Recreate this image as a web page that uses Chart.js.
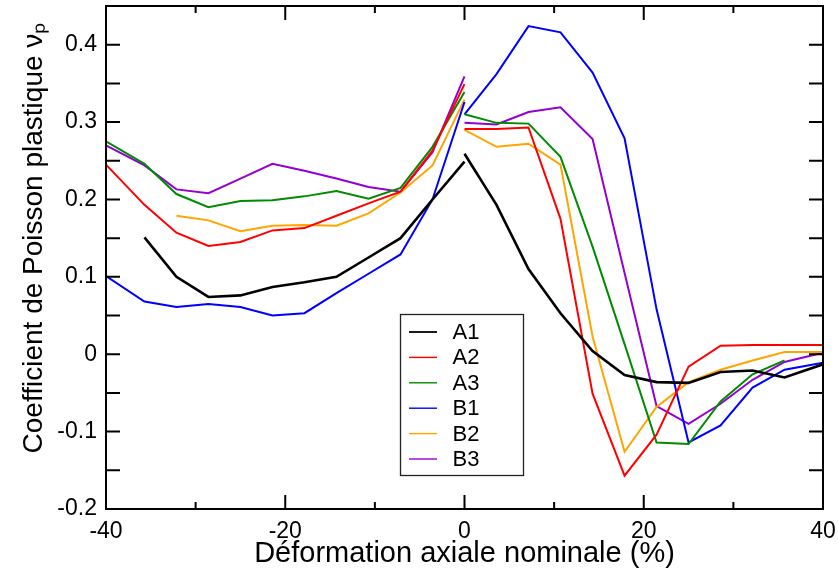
<!DOCTYPE html>
<html>
<head>
<meta charset="utf-8">
<script src="https://cdn.jsdelivr.net/npm/chart.js@4.4.1/dist/chart.umd.min.js"></script>
<style>
  html, body { margin: 0; padding: 0; background: #fff; }
</style>
</head>
<body>
<canvas id="chart" width="838" height="571"></canvas>
<script>
/* ── Data ─────────────────────────────────────────────────────────────── */

// strain steps (%), compression branch then tension branch
const STRAIN_NEG = [-40, -35.71, -32.14, -28.57, -25, -21.43, -17.86, -14.29, -10.71, -7.14, -3.57, 0];
const STRAIN_POS = [0, 3.57, 7.14, 10.71, 14.29, 17.86, 21.43, 25, 28.57, 32.14, 35.71, 40];

const LABELS = ['A1', 'A2', 'A3', 'B1', 'B2', 'B3'];
const COLORS = ['#000000', '#ff0000', '#008b00', '#0000ff', '#ffa500', '#9400d3'];

const A1_NEG = [null, 0.151, 0.100, 0.074, 0.076, 0.087, 0.093, 0.100, 0.125, 0.150, 0.200, 0.249];
const A2_NEG = [0.245, 0.193, 0.157, 0.140, 0.145, 0.160, 0.163, 0.179, 0.195, 0.210, 0.263, 0.349];
const A3_NEG = [0.275, 0.246, 0.207, 0.190, 0.198, 0.199, 0.204, 0.211, 0.201, 0.215, 0.268, 0.339];
const B1_NEG = [0.101, 0.068, 0.061, 0.065, 0.061, 0.050, 0.053, 0.079, 0.104, 0.129, 0.200, 0.326];
const B2_NEG = [null, null, 0.179, 0.173, 0.159, 0.166, 0.167, 0.166, 0.182, 0.209, 0.244, 0.329];
const B3_NEG = [0.270, 0.244, 0.213, 0.208, 0.227, 0.246, 0.237, 0.227, 0.216, 0.210, 0.261, 0.359];

const A1_POS = [0.259, 0.193, 0.110, 0.053, 0.004, -0.027, -0.036, -0.037, -0.023, -0.021, -0.030, -0.013];
const A2_POS = [0.291, 0.291, 0.293, 0.175, -0.051, -0.157, -0.104, -0.016, 0.011, 0.012, 0.012, 0.012];
const A3_POS = [0.310, 0.299, 0.298, 0.255, 0.139, 0.013, -0.114, -0.116, -0.061, -0.026, -0.008, null];
const B1_POS = [0.310, 0.362, 0.424, 0.416, 0.364, 0.279, 0.058, -0.114, -0.092, -0.043, -0.020, -0.011];
const B2_POS = [0.290, 0.268, 0.272, 0.245, 0.023, -0.126, -0.068, -0.036, -0.020, -0.008, 0.003, 0.003];
const B3_POS = [0.299, 0.297, 0.313, 0.319, 0.278, 0.105, -0.067, -0.090, -0.064, -0.033, -0.010, 0.002];

const NEG = [A1_NEG, A2_NEG, A3_NEG, B1_NEG, B2_NEG, B3_NEG];
const POS = [A1_POS, A2_POS, A3_POS, B1_POS, B2_POS, B3_POS];

// the two branches are not joined at 0 → null point in between
function branches(neg, pos) {
  const pts = STRAIN_NEG.map((x, i) => ({ x, y: neg[i] }));
  pts.push({ x: 0, y: null });
  STRAIN_POS.forEach((x, i) => pts.push({ x, y: pos[i] }));
  return pts;
}

/* ── Plugins: boxed frame with inward ticks, legend inside the plot ───── */

const frame = {
  id: 'frame',
  afterDatasetsDraw(chart) {
    const { ctx, chartArea: a, scales: { x, y } } = chart;
    ctx.save();
    ctx.strokeStyle = '#000';
    ctx.lineWidth = 2;
    ctx.beginPath();
    x.ticks.forEach(t => {
      const px = x.getPixelForValue(t.value);
      if (px <= a.left + 1 || px >= a.right - 1) return;
      const len = t.value % 20 === 0 ? 14 : 7;
      ctx.moveTo(px, a.bottom); ctx.lineTo(px, a.bottom - len);
      ctx.moveTo(px, a.top);    ctx.lineTo(px, a.top + len);
    });
    y.ticks.forEach(t => {
      const py = y.getPixelForValue(t.value);
      if (py <= a.top + 1 || py >= a.bottom - 1) return;
      ctx.moveTo(a.left, py);  ctx.lineTo(a.left + 14, py);
      ctx.moveTo(a.right, py); ctx.lineTo(a.right - 14, py);
    });
    ctx.stroke();
    ctx.strokeRect(a.left, a.top, a.right - a.left, a.bottom - a.top);
    ctx.restore();
  }
};

const boxLegend = {
  id: 'boxLegend',
  afterDraw(chart) {
    const { ctx, chartArea: a } = chart;
    const left = a.left + 294.5, top = a.top + 308.5, w = 123, h = 161;
    ctx.save();
    ctx.fillStyle = '#fff';
    ctx.fillRect(left, top, w, h);
    ctx.strokeStyle = '#222';
    ctx.lineWidth = 1.3;
    ctx.strokeRect(left, top, w, h);
    ctx.font = '22px "Liberation Sans", Arial, sans-serif';
    ctx.textBaseline = 'middle';
    chart.data.datasets.forEach((ds, i) => {
      const cy = top + 17.5 + i * 25.4;
      ctx.strokeStyle = ds.borderColor;
      ctx.lineWidth = i === 0 ? 1.8 : 1.4;
      ctx.beginPath();
      ctx.moveTo(left + 8.5, cy);
      ctx.lineTo(left + 36.5, cy);
      ctx.stroke();
      ctx.fillStyle = '#000';
      ctx.fillText(ds.label, left + 52, cy + 1);
    });
    ctx.restore();
  }
};

/* ── Chart ────────────────────────────────────────────────────────────── */

Chart.defaults.font.family = '"Liberation Sans", Arial, Helvetica, sans-serif';
Chart.defaults.color = '#000';

new Chart(document.getElementById('chart'), {
  type: 'line',
  data: {
    datasets: LABELS.map((label, i) => ({
      label,
      data: branches(NEG[i], POS[i]),
      borderColor: COLORS[i],
      borderWidth: i === 0 ? 2.6 : 2,
      pointRadius: 0,
      tension: 0,
      fill: false,
      spanGaps: false,
    })),
  },
  options: {
    responsive: false,
    animation: false,
    layout: { padding: { top: 6, right: 15, left: 0, bottom: 0 } },
    plugins: { legend: { display: false }, tooltip: { enabled: false } },
    scales: {
      x: {
        type: 'linear',
        min: -40, max: 40,
        afterFit: s => { s.height = 62; s.paddingLeft = 0; s.paddingRight = 0; },
        grid: { display: false, drawTicks: false },
        border: { display: false },
        ticks: {
          stepSize: 10,
          padding: 9,
          maxRotation: 0,
          autoSkip: false,
          font: { size: 23 },
          callback: v => (v % 20 === 0 ? String(v) : ''),
        },
        title: {
          display: true,
          text: 'Déformation axiale nominale (%)',
          font: { size: 29 },
          padding: { top: 0, bottom: 0 },
        },
      },
      y: {
        min: -0.2, max: 0.45,
        afterFit: s => { s.width = 106; s.paddingTop = 0; s.paddingBottom = 0; },
        grid: { display: false, drawTicks: false },
        border: { display: false },
        ticks: {
          stepSize: 0.05,
          padding: 9,
          autoSkip: false,
          font: { size: 23 },
          callback: v => {
            const r = Math.round(v * 100);
            return r % 10 === 0 ? String(r / 100) : '';
          },
        },
        title: {
          display: true,
          text: '     Coefficient de Poisson plastique νₚ',
          font: { size: 28 },
          padding: { top: 17, bottom: 0 },
        },
      },
    },
  },
  plugins: [frame, boxLegend],
});
</script>
</body>
</html>
